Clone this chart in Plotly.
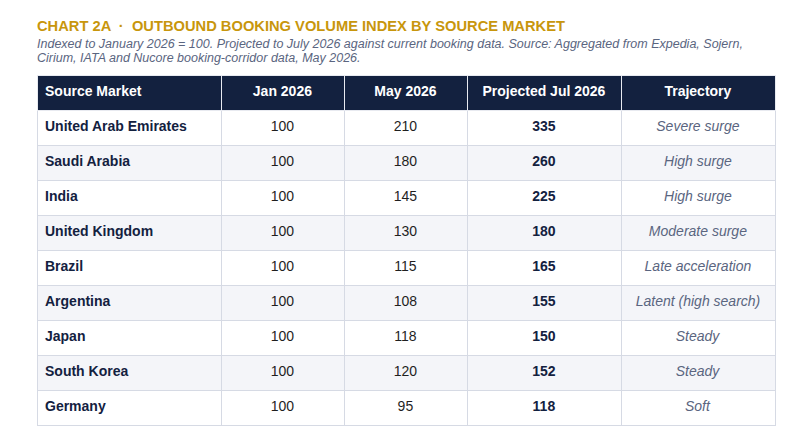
import plotly.graph_objects as go

markets = ["United Arab Emirates", "Saudi Arabia", "India", "United Kingdom", "Brazil",
           "Argentina", "Japan", "South Korea", "Germany"]
jan_2026 = [100, 100, 100, 100, 100, 100, 100, 100, 100]
may_2026 = [210, 180, 145, 130, 115, 108, 118, 120, 95]
jul_2026_proj = [335, 260, 225, 180, 165, 155, 150, 152, 118]
trajectory = ["Severe surge", "High surge", "High surge", "Moderate surge", "Late acceleration",
              "Latent (high search)", "Steady", "Steady", "Soft"]
headers = ["Source Market", "Jan 2026", "May 2026", "Projected Jul 2026", "Trajectory"]

W, H = 797, 447
OFF = 8  # page body margin offset
NAVY = "#13213f"
GOLD = "#c8960c"
SUB = "#5a6580"
LINE = "#d6dae4"
ALT = "#f4f5f9"
FONT = "Liberation Sans, Arial, sans-serif"


def px_x(x):
    return (x - OFF) / W


def px_y(y):
    return 1 - (y - OFF) / H


n = len(markets)
fills = ["#ffffff" if i % 2 == 0 else ALT for i in range(n)]

col1 = [f"<b>{m}</b>" for m in markets]
col2 = [f"<span>{v}</span>" for v in jan_2026]
col3 = [f"<span>{v}</span>" for v in may_2026]
col4 = [f"<b>{v}</b>" for v in jul_2026_proj]
col5 = [f"<i>{t}</i>" for t in trajectory]

fig = go.Figure(go.Table(
    domain=dict(x=[px_x(37), px_x(775)], y=[0, px_y(75)]),
    columnwidth=[184, 123, 123, 154, 154],
    header=dict(
        values=[f"<b>{h}</b>" for h in headers],
        fill_color=NAVY,
        line=dict(color="#e8eaf0", width=1),
        font=dict(family=FONT, size=14, color="#ffffff"),
        align=["left", "center", "center", "center", "center"],
        height=35,
    ),
    cells=dict(
        values=[col1, col2, col3, col4, col5],
        fill_color=[fills] * 5,
        line=dict(color=LINE, width=1),
        font=dict(family=FONT, size=14,
                  color=[NAVY, "#1f1f1f", "#1f1f1f", NAVY, SUB]),
        align=["left", "center", "center", "center", "center"],
        height=35,
    ),
))

fig.add_annotation(
    x=px_x(35), y=px_y(26), xref="paper", yref="paper", xanchor="left", yanchor="middle",
    text="<b>CHART 2A  ·  OUTBOUND BOOKING VOLUME INDEX BY SOURCE MARKET</b>",
    showarrow=False, font=dict(family=FONT, size=14.7, color=GOLD),
)
sub_lines = [
    "Indexed to January 2026 = 100. Projected to July 2026 against current booking data. Source: Aggregated from Expedia, Sojern,",
    "Cirium, IATA and Nucore booking-corridor data, May 2026.",
]
for i, line in enumerate(sub_lines):
    fig.add_annotation(
        x=px_x(35), y=px_y(44 + 14 * i), xref="paper", yref="paper", xanchor="left", yanchor="middle",
        text=f"<i>{line}</i>", showarrow=False,
        font=dict(family=FONT, size=12.5, color=SUB),
    )

fig.update_layout(
    width=W, height=H, margin=dict(l=0, r=0, t=0, b=0),
    paper_bgcolor="#ffffff", plot_bgcolor="#ffffff",
)
fig.write_html("out.html")
